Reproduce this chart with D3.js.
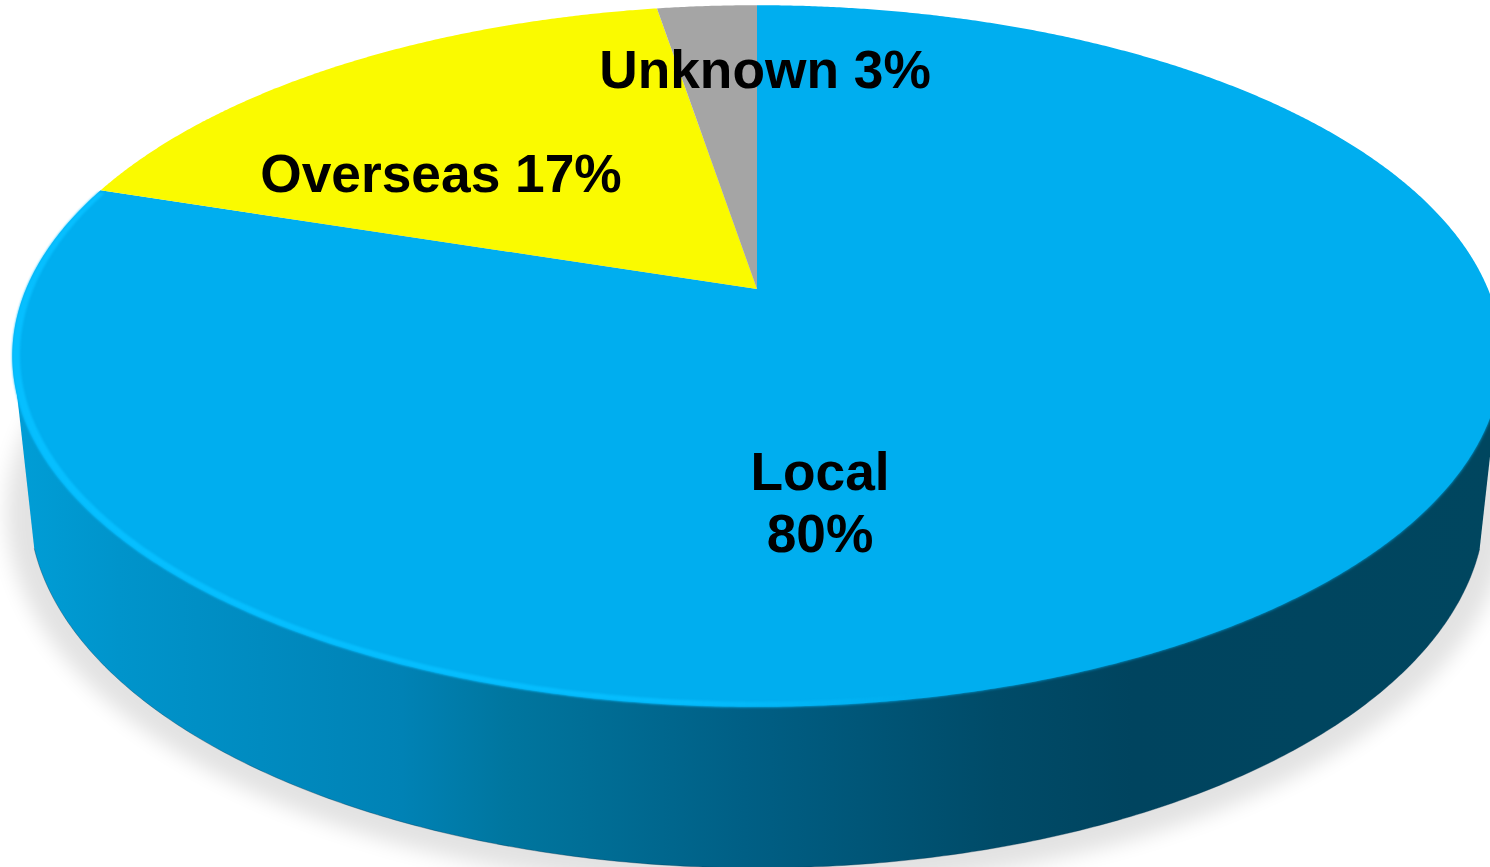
<!DOCTYPE html>
<html>
<head>
<meta charset="utf-8">
<style>
  html, body { margin: 0; background: #fff; overflow: hidden; }
  svg { display: block; }
  text { font-family: "Liberation Sans", Arial, sans-serif; font-weight: bold; font-size: 53.3px; fill: #000; text-anchor: middle; }
</style>
</head>
<body>
<div class="canvas"></div>
<script src="https://cdn.jsdelivr.net/npm/d3@7"></script>
<script>
// data
const categories = ['Local', 'Overseas', 'Unknown'];
const shares = [80, 17.4, 2.6];
const colors = ['#00aeef', '#fafa00', '#a5a5a5'];

// label placement, one list of baselines per category
const labelPos = [
    { x: 820, lines: [490, 552] },
    { x: 441, lines: [192] },
    { x: 765, lines: [88] }
];

const dims = { width: 1490, height: 867 };

// top face: a circle seen in perspective, apex is the pie centre
const cent = { x: 757, y: 289 };
const persp = { r: 731, k: 338, p: -0.191 };
const project = (a, rad = 1) => {
    const u = Math.sin(a) * rad, v = -Math.cos(a) * rad;
    const w = 1 + persp.p * v;
    return [cent.x + persp.r * u / w, cent.y + persp.k * v / w];
};

// bottom edge of the side wall
const base = { x: 757, y: 505, rx: 728, ry: 363 };
const baseAt = t => [base.x + base.rx * Math.cos(t), base.y + base.ry * Math.sin(t)];

const line = d3.line();
const svg = d3.select('.canvas').append('svg')
    .attr('width', dims.width)
    .attr('height', dims.height);

const defs = svg.append('defs');
defs.append('filter').attr('id', 'shadowBlur')
    .attr('x', '-10%').attr('y', '-10%').attr('width', '120%').attr('height', '120%')
    .append('feGaussianBlur').attr('stdDeviation', 10);
defs.append('filter').attr('id', 'softEdge')
    .attr('x', '-5%').attr('y', '-5%').attr('width', '110%').attr('height', '110%')
    .append('feGaussianBlur').attr('stdDeviation', 1.6);

const sideGrad = defs.append('linearGradient').attr('id', 'sideGrad')
    .attr('gradientUnits', 'userSpaceOnUse')
    .attr('x1', 0).attr('x2', dims.width).attr('y1', 0).attr('y2', 0);
[[0, '#009fd8'], [0.08, '#0094cb'], [0.27, '#0082b5'], [0.34, '#00769f'], [0.5, '#005f85'], [0.67, '#004b68'], [0.76, '#00445f'], [1, '#00465f']]
    .forEach(s => sideGrad.append('stop').attr('offset', s[0]).attr('stop-color', s[1]));

const rimGrad = defs.append('linearGradient').attr('id', 'rimGrad')
    .attr('gradientUnits', 'userSpaceOnUse')
    .attr('x1', 0).attr('x2', dims.width).attr('y1', 0).attr('y2', 0);
[[0, '#06bfff', 1], [0.45, '#06bfff', 0.9], [0.62, '#06bfff', 0]]
    .forEach(s => rimGrad.append('stop').attr('offset', s[0]).attr('stop-color', s[1]).attr('stop-opacity', s[2]));

// shadow on the ground
const shadowPts = d3.range(0, 2 * Math.PI, 0.02)
    .map(t => [base.x + (base.rx + 22) * Math.cos(t), base.y + 8 + (base.ry + 14) * Math.sin(t)]);
svg.append('path')
    .attr('d', line(shadowPts) + 'Z')
    .attr('fill', '#000')
    .attr('opacity', 0.11)
    .attr('filter', 'url(#shadowBlur)');

// side wall, straight from the widest part of the top face down to the bottom edge
const wallEdge = d3.range(Math.PI - 0.12, 0.12, -0.01).map(baseAt);
const wallPts = [[16, 385], ...wallEdge, [1498, 385]];
const wallPath = line(wallPts) + 'Z';
svg.append('path')
    .attr('class', 'wall')
    .attr('d', wallPath)
    .attr('fill', 'url(#sideGrad)');
svg.append('path')
    .attr('d', line(wallEdge))
    .attr('fill', 'none')
    .attr('stroke', '#003550')
    .attr('stroke-opacity', 0.35);

// soft blue glow where the top face meets the dark wall, kept on the wall only
defs.append('clipPath').attr('id', 'wallClip').append('path').attr('d', wallPath);
const rimAngles = d3.range(0, 2 * Math.PI, 0.01);
svg.append('g')
    .attr('clip-path', 'url(#wallClip)')
    .append('path')
    .attr('d', line(rimAngles.map(a => project(a))) + 'Z')
    .attr('fill', colors[0])
    .attr('filter', 'url(#softEdge)');

// slices of the top face
const pie = d3.pie().sort(null).value(d => d.share);
const arcs = pie(categories.map((name, i) => ({ name, share: shares[i], color: colors[i] })));
const slicePath = d => {
    const n = Math.ceil((d.endAngle - d.startAngle) / 0.005);
    const pts = d3.range(n + 1).map(i => project(d.startAngle + (d.endAngle - d.startAngle) * i / n));
    return line([[cent.x, cent.y], ...pts]) + 'Z';
};
svg.append('g').selectAll('path')
    .data(arcs)
    .enter().append('path')
    .attr('class', 'arc')
    .attr('d', slicePath)
    .attr('fill', d => d.data.color);

// bright rim along the front edge of the big slice
const rimRange = d3.range(2.6, arcs[0].endAngle, 0.01);
const rimPts = [...rimRange.map(a => project(a, 1)), ...rimRange.slice().reverse().map(a => project(a, 0.99))];
svg.append('path')
    .attr('d', line(rimPts) + 'Z')
    .attr('fill', 'url(#rimGrad)')
    .style('filter', 'blur(0.8px)');

// labels
const labels = svg.append('g');
arcs.forEach((d, i) => {
    const pct = d3.format('.0f')(d.data.share) + '%';
    const rows = labelPos[i].lines.length > 1 ? [d.data.name, pct] : [d.data.name + ' ' + pct];
    rows.forEach((row, j) => {
        labels.append('text')
            .attr('x', labelPos[i].x)
            .attr('y', labelPos[i].lines[j])
            .text(row);
    });
});
</script>
</body>
</html>
